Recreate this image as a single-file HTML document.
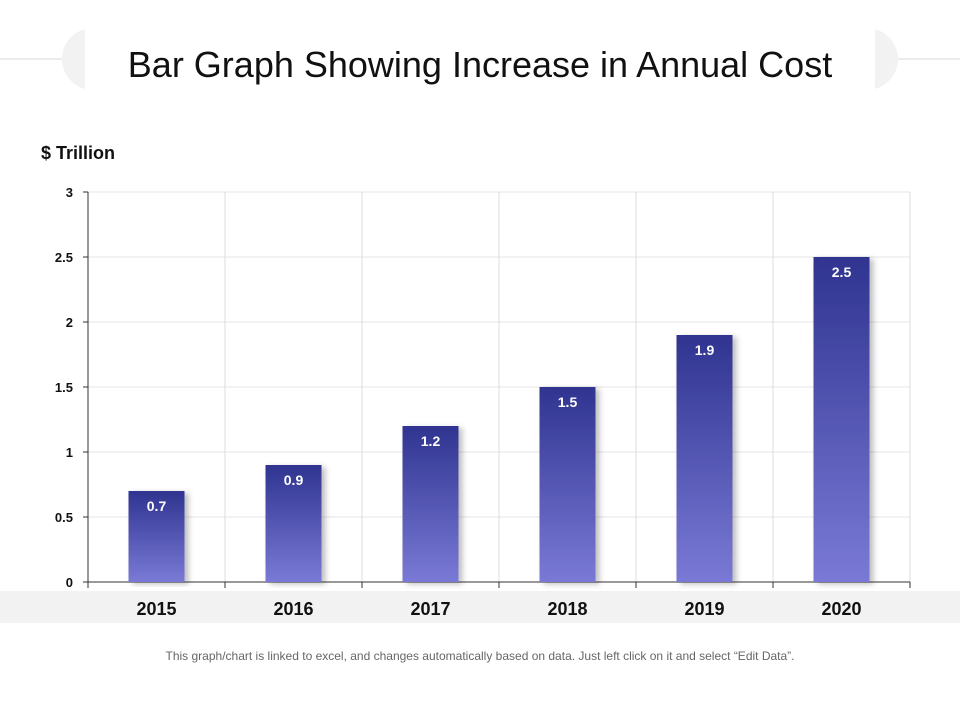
<!DOCTYPE html>
<html><head><meta charset="utf-8"><style>
body{margin:0;background:#fff;}
svg{display:block;font-family:"Liberation Sans",Arial,sans-serif;}
</style></head><body>
<svg width="960" height="720" id="chart">
<defs>
<linearGradient id="bg" x1="0" y1="0" x2="0" y2="1"><stop offset="0" stop-color="#2f3490"/><stop offset="1" stop-color="#7a7ad6"/></linearGradient>
<linearGradient id="capL" x1="0" y1="0" x2="1" y2="0"><stop offset="0" stop-color="#e6e6e6"/><stop offset="1" stop-color="#fff"/></linearGradient>
<linearGradient id="capR" x1="1" y1="0" x2="0" y2="0"><stop offset="0" stop-color="#e6e6e6"/><stop offset="1" stop-color="#fff"/></linearGradient>
<filter id="sh" x="-20%" y="-5%" width="150%" height="110%"><feDropShadow dx="4" dy="2" stdDeviation="3" flood-color="#000" flood-opacity="0.25"/></filter>
</defs>
<line x1="0" y1="59" x2="960" y2="59" stroke="#d9d9d9"/>
<rect x="62" y="28" width="836" height="62" rx="31" fill="url(#capL)"/>
<rect x="62" y="28" width="836" height="62" rx="31" fill="url(#capR)" opacity="0.5"/>
<rect x="85" y="27" width="790" height="64" fill="#fff"/>
<text x="480" y="77" text-anchor="middle" font-size="36" fill="#111">Bar Graph Showing Increase in Annual Cost</text>
<text x="41" y="159" font-size="18" font-weight="bold" fill="#111">$ Trillion</text>
<rect x="0" y="591" width="960" height="32" fill="#f2f2f2"/>
<g id="grid"></g><g id="bars"></g>
<text x="480" y="660" text-anchor="middle" font-size="12" fill="#666">This graph/chart is linked to excel, and changes automatically based on data. Just left click on it and select “Edit Data”.</text>
</svg>
<script>
const categories=["2015","2016","2017","2018","2019","2020"];
const values=[0.7,0.9,1.2,1.5,1.9,2.5];
const ticks=[0,0.5,1,1.5,2,2.5,3];
const NS="http://www.w3.org/2000/svg";
const x0=88,x1=910,y0=582,y1=192,ymax=3;
const band=(x1-x0)/categories.length;
const y=v=>y0-(v/ymax)*(y0-y1);
const xc=i=>x0+band*(i+0.5);
function mk(t,a,p){const e=document.createElementNS(NS,t);for(const k in a)e.setAttribute(k,a[k]);p.appendChild(e);return e;}
const g=document.getElementById('grid'),b=document.getElementById('bars');
ticks.forEach(t=>{
 if(t>0){const l=mk('line',{x1:x0,x2:x1,y1:y(t),y2:y(t),stroke:'#e4e4e4'},g);
 
 }
 const tl=mk('line',{x1:x0-5,x2:x0,y1:y(t),y2:y(t),stroke:'#333'},g);
 
 
 const tx=mk('text',{x:73,y:y(t)+5,'text-anchor':'end','font-size':13,'font-weight':'bold',fill:'#111'},g);tx.textContent=t;
 
 
});
for(let i=1;i<=categories.length;i++){const xx=x0+band*i;
 const l=mk('line',{x1:xx,x2:xx,y1:y1,y2:y0,stroke:'#dcdcdc'},g);
 
 
 const t=mk('line',{x1:xx,x2:xx,y1:y0,y2:y0+6,stroke:'#333'},g);
 
 }
const ya=mk('line',{x1:x0,x2:x0,y1:y1,y2:y0+6,stroke:'#333'},g);


const xa=mk('line',{x1:x0,x2:x1,y1:y0,y2:y0,stroke:'#333'},g);


const bw=56;
values.forEach((v,i)=>{
 const r=mk('rect',{x:xc(i)-bw/2,y:y(v),width:bw,height:y0-y(v),fill:'url(#bg)',filter:'url(#sh)'},b);
 
 
 const t=mk('text',{x:xc(i),y:y(v)+20,'text-anchor':'middle','font-size':14,'font-weight':'bold',fill:'#fff'},b);t.textContent=v;
 
 
 const c=mk('text',{x:xc(i),y:615,'text-anchor':'middle','font-size':18,'font-weight':'bold',fill:'#111'},b);c.textContent=categories[i];
 
 
});
</script>
</body></html>
